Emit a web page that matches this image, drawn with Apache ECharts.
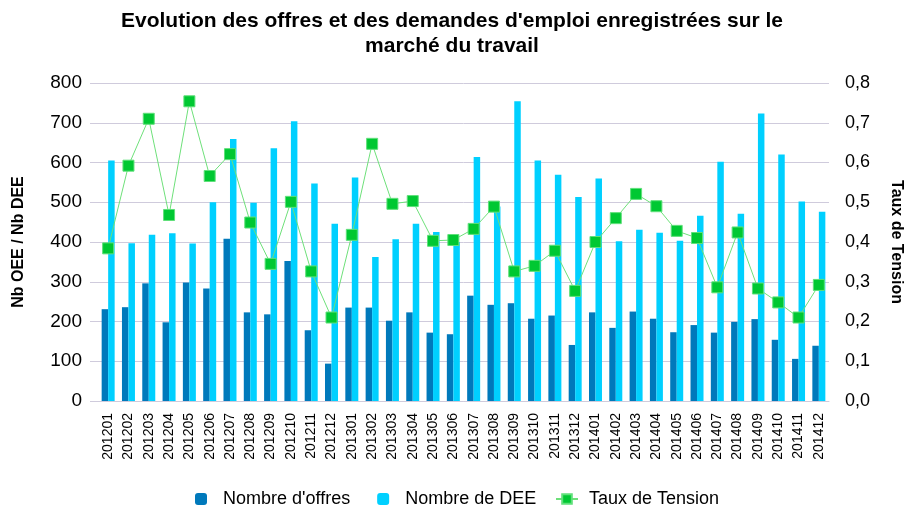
<!DOCTYPE html>
<html>
<head>
<meta charset="utf-8">
<script src="https://cdn.jsdelivr.net/npm/echarts@6/dist/echarts.min.js"></script>
<style>
  html, body { margin: 0; padding: 0; background: #fff; }
  #main { width: 904px; height: 506px; }
</style>
</head>
<body>
<div id="main"></div>
<script>
// mois
const mois = [
  "201201", "201202", "201203", "201204", "201205", "201206", "201207", "201208", "201209", "201210", "201211", "201212",
  "201301", "201302", "201303", "201304", "201305", "201306", "201307", "201308", "201309", "201310", "201311", "201312",
  "201401", "201402", "201403", "201404", "201405", "201406", "201407", "201408", "201409", "201410", "201411", "201412"
];
// offres d'emploi
const nbOffres = [
  231, 236, 296, 198, 298, 283, 408, 223, 218, 352, 178, 94,
  235, 235, 202, 223, 172, 168, 265, 242, 246, 207, 215, 141,
  223, 184, 225, 207, 173, 191, 172, 199, 206, 154, 106, 139
];
// demandes d'emploi
const nbDEE = [
  605, 397, 418, 422, 396, 500, 659, 499, 636, 704, 547, 446,
  562, 362, 407, 446, 425, 400, 614, 489, 754, 605, 569, 513,
  560, 402, 431, 423, 403, 466, 602, 471, 723, 620, 502, 476
];
// taux de tension
const tauxTension = [
  0.384, 0.592, 0.710, 0.468, 0.754, 0.566, 0.621, 0.449, 0.345, 0.501, 0.326, 0.210,
  0.418, 0.647, 0.496, 0.503, 0.403, 0.405, 0.433, 0.489, 0.326, 0.340, 0.378, 0.277,
  0.400, 0.460, 0.521, 0.490, 0.428, 0.410, 0.286, 0.424, 0.283, 0.248, 0.210, 0.292
];
const ticksGauche = [0, 800, 100];
const ticksDroite = [0, 0.8, 0.1];

const police = "'Liberation Sans', Arial, sans-serif";
const gris = "#cfcbdc";

const myChart = echarts.init(document.getElementById("main"));

const option = {
  animation: false,
  textStyle: { fontFamily: police },
  title: {
    text: "Evolution des offres et des demandes d'emploi enregistrées sur le\nmarché du travail",
    left: "center",
    top: 4,
    textStyle: { fontSize: 21, fontWeight: "bold", color: "#000", lineHeight: 25, fontFamily: police }
  },
  legend: [
    {
      data: ["Nombre d'offres", "Nombre de DEE"],
      left: 190,
      top: 485,
      itemWidth: 12,
      itemHeight: 12,
      itemGap: 27,
      textStyle: { fontSize: 18, color: "#000", fontFamily: police, padding: [0, 0, 0, 11] }
    },
    {
      data: ["Taux de Tension"],
      left: 550,
      top: 485,
      itemWidth: 22,
      itemHeight: 12,
      textStyle: { fontSize: 18, color: "#000", fontFamily: police, padding: [0, 0, 0, 6] }
    }
  ],
  grid: { left: 98, right: 75, top: 83, bottom: 105, outerBoundsMode: "none" },
  xAxis: {
    type: "category",
    data: mois,
    axisLine: { lineStyle: { color: gris } },
    axisTick: { show: false },
    axisLabel: { rotate: 90, interval: 0, fontSize: 14, color: "#000", margin: 12 }
  },
  yAxis: [
    {
      type: "value",
      min: ticksGauche[0],
      max: ticksGauche[1],
      interval: ticksGauche[2],
      name: "Nb OEE / Nb DEE",
      nameLocation: "middle",
      nameGap: 71,
      nameTextStyle: { fontSize: 16, fontWeight: "bold", color: "#000" },
      axisLine: { show: false },
      axisTick: { show: true, length: 8, lineStyle: { color: gris } },
      splitLine: { lineStyle: { color: gris } },
      axisLabel: { fontSize: 19, color: "#000", margin: 16 }
    },
    {
      type: "value",
      min: ticksDroite[0],
      max: ticksDroite[1],
      interval: ticksDroite[2],
      name: "Taux de Tension",
      nameLocation: "middle",
      nameRotate: -90,
      nameGap: 59,
      nameTextStyle: { fontSize: 16, fontWeight: "bold", color: "#000" },
      axisLine: { show: false },
      axisTick: { show: false },
      splitLine: { show: false },
      axisLabel: {
        fontSize: 18,
        color: "#000",
        margin: 16,
        formatter: function (v) { return v.toFixed(1).replace(".", ","); }
      }
    }
  ],
  series: [
    {
      name: "Nombre d'offres",
      type: "bar",
      data: nbOffres,
      barWidth: 6.5,
      barGap: "0%",
      itemStyle: { color: "#0079bb" }
    },
    {
      name: "Nombre de DEE",
      type: "bar",
      data: nbDEE,
      barWidth: 6.5,
      itemStyle: { color: "#00d0ff" }
    },
    {
      name: "Taux de Tension",
      type: "line",
      yAxisIndex: 1,
      data: tauxTension,
      symbol: "rect",
      symbolSize: 11,
      lineStyle: { color: "#6ee07a", width: 1 },
      itemStyle: { color: "#00c832", borderColor: "#5fe07a", borderWidth: 1 }
    }
  ]
};

myChart.setOption(option);
</script>
</body>
</html>
